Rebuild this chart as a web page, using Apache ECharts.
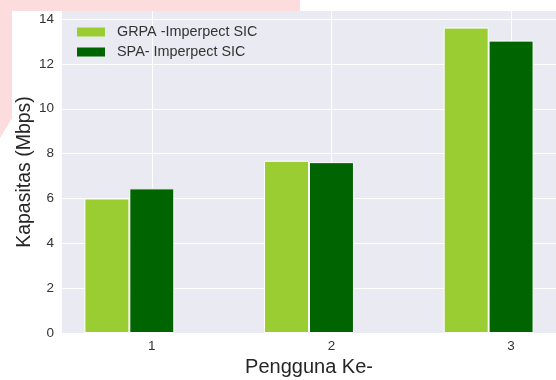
<!DOCTYPE html>
<html>
<head>
<meta charset="utf-8">
<script src="https://cdn.jsdelivr.net/npm/echarts@6/dist/echarts.min.js"></script>
<style>html,body{margin:0;padding:0;background:#fff;}#c{width:556px;height:380px;}</style>
</head>
<body>
<div id="c"></div>
<script>
// Data
var categories = [1, 2, 3];
var seriesNames = ['GRPA -Imperpect SIC', 'SPA- Imperpect SIC'];
var grpaValues = [6.0, 7.68, 13.62];
var spaValues = [6.45, 7.62, 13.04];
var yTicks = [0, 2, 4, 6, 8, 10, 12, 14];

var barOffset = 0.25; // light bar sits one bar-width left of the tick
var FONT = 'Liberation Sans, Arial, sans-serif';

var chart = echarts.init(document.getElementById('c'), null, {renderer: 'canvas'});
var option = {
  animation: false,
  backgroundColor: '#ffffff',
  textStyle: {fontFamily: FONT},
  graphic: [{
    type: 'polygon',
    z: -10,
    shape: {points: [[0,0],[300,0],[300,11],[12,11],[12,118],[0,138]]},
    style: {fill: '#FDDCDD'},
    silent: true
  }],
  grid: {
    left: 62, right: 0, top: 11, bottom: 47,
    outerBoundsMode: 'none',
    containLabel: false,
    show: true, backgroundColor: '#EAEAF2', borderWidth: 0
  },
  legend: {
    orient: 'vertical',
    left: 77, top: 25, padding: 0,
    itemWidth: 28, itemHeight: 9, itemGap: 6,
    icon: 'rect',
    itemStyle: {borderWidth: 0},
    textStyle: {fontFamily: FONT, fontSize: 14.4, color: '#333333', padding: [0,0,0,7]},
    data: seriesNames
  },
  xAxis: {
    type: 'value',
    min: 0.5, max: 3.25, interval: 0.25,
    name: 'Pengguna Ke-',
    nameLocation: 'middle',
    nameGap: 22,
    nameTextStyle: {fontFamily: FONT, fontSize: 20, color: '#262626'},
    axisLine: {show: false},
    axisTick: {show: false},
    axisLabel: {
      margin: 6, fontSize: 13.5, color: '#333333', fontFamily: FONT,
      showMinLabel: true, showMaxLabel: true,
      formatter: function (v) {
        return categories.indexOf(Math.round(v * 1000) / 1000) >= 0 ? String(v) : '';
      }
    },
    splitLine: {
      show: true,
      lineStyle: {color: ['rgba(0,0,0,0)', 'rgba(0,0,0,0)', '#ffffff', 'rgba(0,0,0,0)'], width: 1}
    }
  },
  yAxis: {
    type: 'value',
    min: 0, max: 14.36, interval: 2,
    name: 'Kapasitas (Mbps)',
    nameLocation: 'middle',
    nameMoveOverlap: false,
    nameGap: 27,
    nameTextStyle: {fontFamily: FONT, fontSize: 19.5, color: '#262626'},
    axisLine: {show: false},
    axisTick: {show: false},
    axisLabel: {
      margin: 8, fontSize: 13.5, color: '#333333', fontFamily: FONT,
      showMaxLabel: false,
      formatter: function (v) { return yTicks.indexOf(v) >= 0 ? String(v) : ''; }
    },
    splitLine: {show: true, showMaxLine: false, lineStyle: {color: '#ffffff', width: 1}}
  },
  series: [
    {
      name: seriesNames[0],
      type: 'bar',
      barWidth: 45,
      barGap: '-100%',
      itemStyle: {color: '#9ACD32', borderColor: '#ffffff', borderWidth: 1},
      data: categories.map(function (c, i) { return [c - barOffset, grpaValues[i]]; })
    },
    {
      name: seriesNames[1],
      type: 'bar',
      barWidth: 45,
      barGap: '-100%',
      itemStyle: {color: '#006400', borderColor: '#ffffff', borderWidth: 1},
      data: categories.map(function (c, i) { return [c, spaValues[i]]; })
    }
  ]
};
chart.setOption(option);
</script>
</body>
</html>
